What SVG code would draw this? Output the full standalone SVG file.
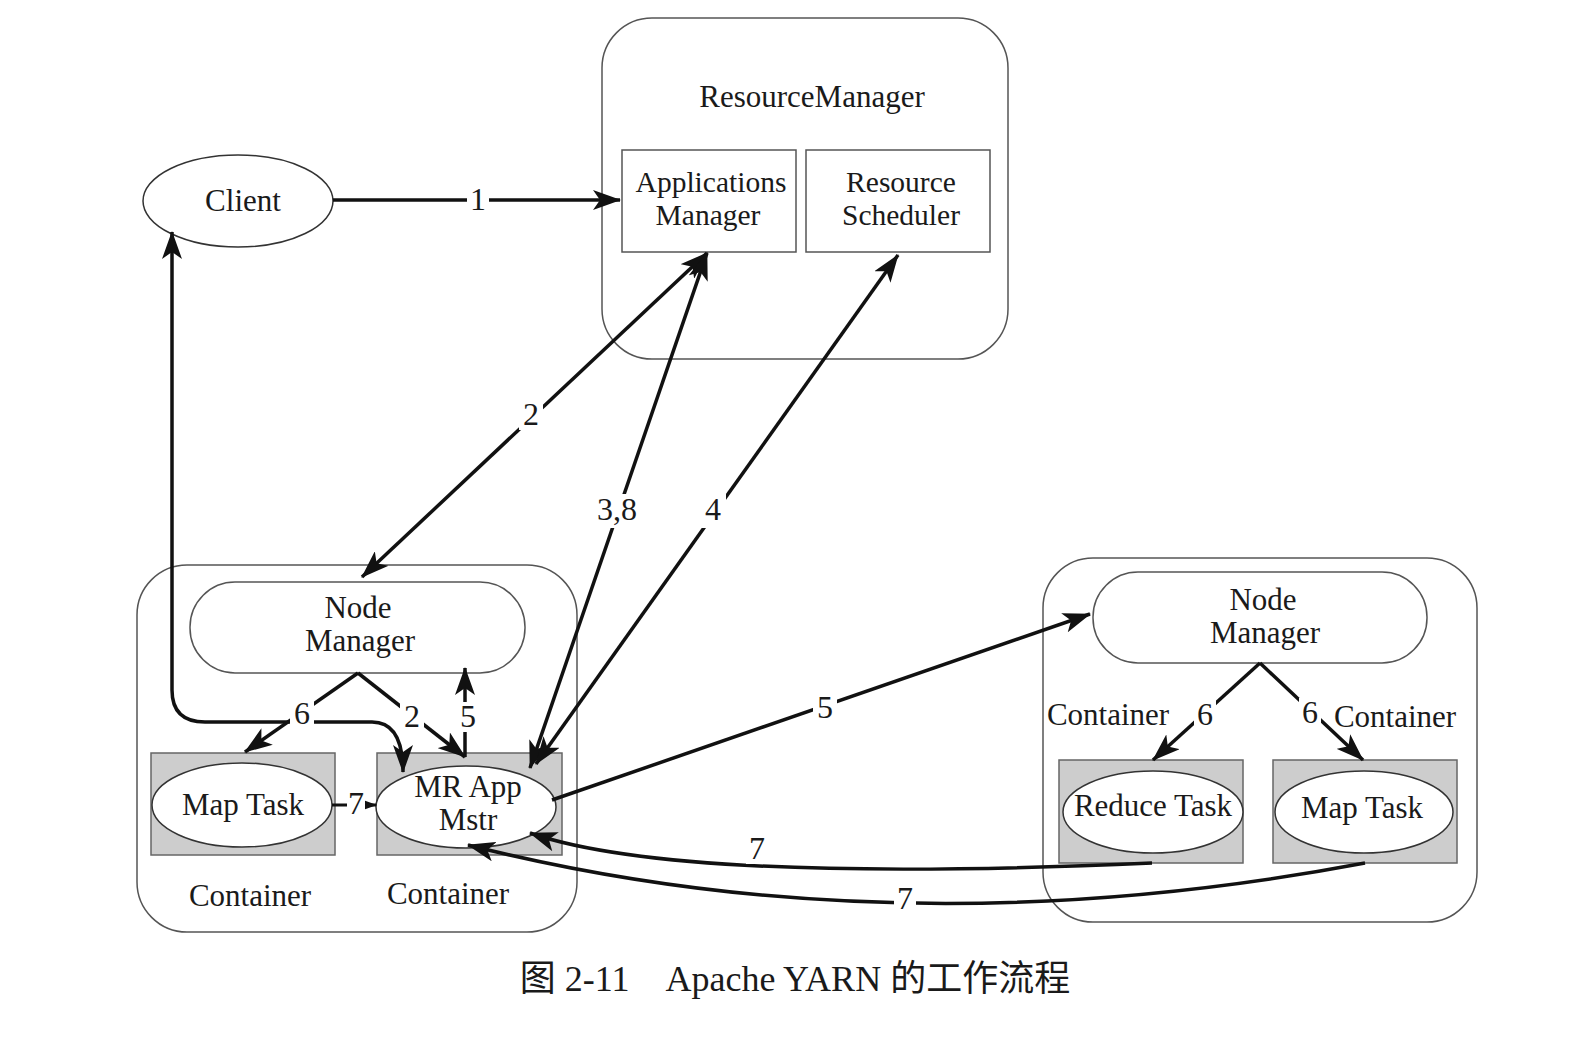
<svg xmlns="http://www.w3.org/2000/svg" width="1577" height="1037" viewBox="0 0 1577 1037">
<style>
text{font-family:"Liberation Serif","Times New Roman",serif;font-size:31px;fill:#1a1a1a;text-anchor:middle}
.box{fill:#fff;stroke:#555;stroke-width:1.5}
.gray{fill:#cdcdcd;stroke:#666;stroke-width:1.5}
.ell{fill:#fff;stroke:#333;stroke-width:1.5}
.c{fill:none;stroke:#111;stroke-width:3.5}
.bg{fill:#fff}
.n{font-size:32px}
.s{font-size:29.5px}
.cap{font-family:"Liberation Serif","Noto Sans CJK SC",serif;font-size:36px}
</style>
<defs>
<marker id="ah" viewBox="0 0 28 20" refX="27" refY="10" markerWidth="28" markerHeight="20" markerUnits="userSpaceOnUse" orient="auto-start-reverse">
<path d="M0,0 L28,10 L0,20 L7,10 z" fill="#111"/>
</marker>
</defs>
<rect width="1577" height="1037" fill="#fff"/>

<g id="resourcemanager">
<rect class="box" x="602" y="18" width="406" height="341" rx="50"/>
<text x="812" y="107">ResourceManager</text>
</g>
<g id="applicationsmanager">
<rect class="box" x="622" y="150" width="174" height="102"/>
<text class="s" x="711" y="192">Applications</text>
<text class="s" x="708" y="225">Manager</text>
</g>
<g id="resourcescheduler">
<rect class="box" x="806" y="150" width="184" height="102"/>
<text class="s" x="901" y="192">Resource</text>
<text class="s" x="901" y="225">Scheduler</text>
</g>
<g id="client">
<ellipse class="ell" cx="238" cy="201" rx="95" ry="46"/>
<text x="243" y="211">Client</text>
</g>

<g id="left-node">
<rect class="box" x="137" y="565" width="440" height="367" rx="50"/>
<text x="250" y="906">Container</text>
<text x="448" y="904">Container</text>
</g>
<g id="left-nodemanager">
<rect class="box" x="190" y="582" width="335" height="91" rx="45"/>
<text x="358" y="618">Node</text>
<text x="360" y="651">Manager</text>
</g>
<g id="left-maptask">
<rect class="gray" x="151" y="753" width="184" height="102"/>
<ellipse class="ell" cx="242" cy="805" rx="90" ry="42"/>
<text x="243" y="815">Map Task</text>
</g>
<g id="mrappmstr">
<rect class="gray" x="377" y="753" width="185" height="102"/>
<ellipse class="ell" cx="466" cy="807" rx="90" ry="41"/>
<text x="468" y="797">MR App</text>
<text x="468" y="830">Mstr</text>
</g>

<g id="right-node">
<rect class="box" x="1043" y="558" width="434" height="364" rx="50"/>
<text x="1108" y="725">Container</text>
<text x="1395" y="727">Container</text>
</g>
<g id="right-nodemanager">
<rect class="box" x="1093" y="572" width="334" height="91" rx="45"/>
<text x="1263" y="610">Node</text>
<text x="1265" y="643">Manager</text>
</g>
<g id="reducetask">
<rect class="gray" x="1059" y="760" width="184" height="103"/>
<ellipse class="ell" cx="1153" cy="812" rx="90" ry="41"/>
<text x="1153" y="816">Reduce Task</text>
</g>
<g id="right-maptask">
<rect class="gray" x="1273" y="760" width="184" height="103"/>
<ellipse class="ell" cx="1364" cy="812" rx="89" ry="41"/>
<text x="1362" y="818">Map Task</text>
</g>

<g id="connectors">
<path class="c" d="M333,200 L620,200" marker-end="url(#ah)"/>
<path class="c" d="M707,253 L362,577" marker-start="url(#ah)" marker-end="url(#ah)"/>
<path class="c" d="M707,253 L530,768" marker-start="url(#ah)" marker-end="url(#ah)"/>
<path class="c" d="M898,255 L536,764" marker-start="url(#ah)" marker-end="url(#ah)"/>
<path class="c" d="M172,232 L172,690 Q172,722 205,722 L372,722 Q403,722 403,772" marker-start="url(#ah)" marker-end="url(#ah)"/>
<path class="c" d="M358,673 L245,752" marker-end="url(#ah)"/>
<path class="c" d="M358,673 L465,757" marker-end="url(#ah)"/>
<path class="c" d="M465,757 L465,668" marker-end="url(#ah)"/>
<path class="c" d="M332,805 L376,805" style="stroke-width:3;marker-end:url(#ah)"/>
<path class="c" d="M552,800 L1090,614" marker-end="url(#ah)"/>
<path class="c" d="M1260,663 L1153,760" marker-end="url(#ah)"/>
<path class="c" d="M1260,663 L1363,760" marker-end="url(#ah)"/>
<path class="c" d="M1152,863 Q678,884 530,833" marker-end="url(#ah)"/>
<path class="c" d="M1365,863 Q892,952 468,845" marker-end="url(#ah)"/>
<rect class="bg" x="467" y="185" width="22" height="30"/>
<rect class="bg" x="519" y="400" width="24" height="30"/>
<rect class="bg" x="594" y="494" width="46" height="34"/>
<rect class="bg" x="700" y="494" width="26" height="34"/>
<rect class="bg" x="813" y="693" width="24" height="30"/>
<rect class="bg" x="290" y="699" width="24" height="30"/>
<rect class="bg" x="400" y="702" width="24" height="30"/>
<rect class="bg" x="457" y="702" width="22" height="30"/>
<rect class="bg" x="347" y="790" width="18" height="28"/>
<rect class="bg" x="1194" y="700" width="22" height="30"/>
<rect class="bg" x="1299" y="698" width="22" height="30"/>
<rect class="bg" x="746" y="834" width="22" height="30"/>
<rect class="bg" x="894" y="884" width="22" height="30"/>
<text class="n" x="478" y="210">1</text>
<text class="n" x="531" y="425">2</text>
<text class="n" x="617" y="520">3,8</text>
<text class="n" x="713" y="520">4</text>
<text class="n" x="825" y="718">5</text>
<text class="n" x="302" y="724">6</text>
<text class="n" x="412" y="727">2</text>
<text class="n" x="468" y="727">5</text>
<text class="n" x="356" y="814">7</text>
<text class="n" x="1205" y="725">6</text>
<text class="n" x="1310" y="723">6</text>
<text class="n" x="757" y="859">7</text>
<text class="n" x="905" y="909">7</text>
</g>

<text class="cap" x="795" y="991" xml:space="preserve">图 2-11    Apache YARN 的工作流程</text>
</svg>
